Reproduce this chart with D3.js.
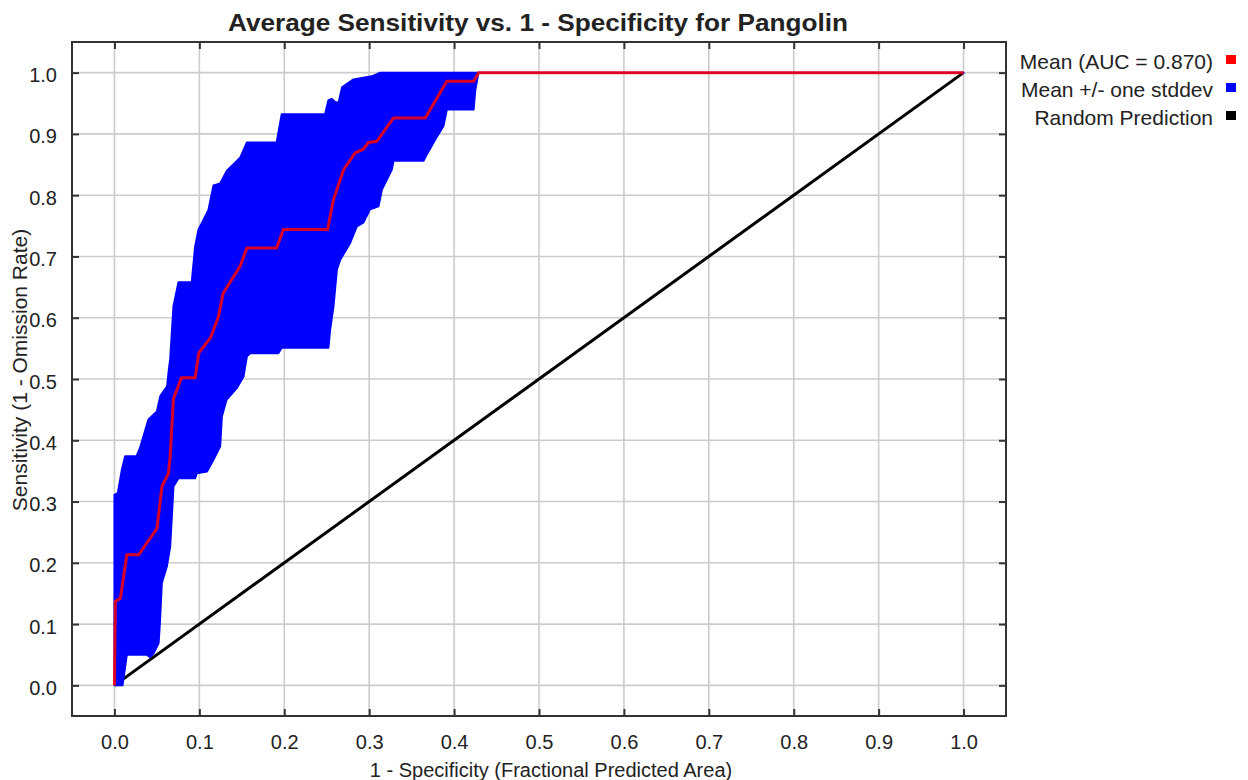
<!DOCTYPE html>
<html>
<head>
<meta charset="utf-8">
<script src="https://cdn.jsdelivr.net/npm/d3@7"></script>
<style>
  body { margin: 0; background: #fff; }
  text { font-family: "Liberation Sans", Arial, sans-serif; fill: #222; }
</style>
</head>
<body>
<script>
// data: [1 - specificity, sensitivity]
const meanCurve = [
  [0.000, 0.000], [0.001, 0.137], [0.007, 0.142], [0.0146, 0.213], [0.0285, 0.213],
  [0.050, 0.256], [0.056, 0.325], [0.0636, 0.346], [0.0656, 0.374], [0.0695, 0.468],
  [0.079, 0.502], [0.095, 0.502], [0.0995, 0.543], [0.113, 0.567], [0.1225, 0.602],
  [0.128, 0.640], [0.148, 0.684], [0.156, 0.714], [0.191, 0.714], [0.199, 0.744],
  [0.251, 0.744], [0.258, 0.793], [0.270, 0.842], [0.2835, 0.869], [0.293, 0.875],
  [0.299, 0.886], [0.309, 0.888], [0.3286, 0.926], [0.366, 0.926], [0.3915, 0.986],
  [0.423, 0.986], [0.429, 1.000], [1.000, 1.000]
];

const upperBand = [
  [0.000, 0.000], [0.000, 0.311], [0.004, 0.314], [0.0087, 0.352], [0.0126, 0.374],
  [0.026, 0.374], [0.030, 0.387], [0.040, 0.434], [0.050, 0.447], [0.054, 0.472],
  [0.062, 0.488], [0.064, 0.515], [0.0656, 0.532], [0.0695, 0.619], [0.0754, 0.658],
  [0.091, 0.658], [0.095, 0.716], [0.099, 0.744], [0.105, 0.760], [0.1107, 0.776],
  [0.1166, 0.816], [0.1245, 0.819], [0.1324, 0.840], [0.148, 0.861], [0.156, 0.886],
  [0.191, 0.886], [0.197, 0.932], [0.248, 0.932], [0.252, 0.955], [0.256, 0.957],
  [0.260, 0.952], [0.264, 0.951], [0.268, 0.976], [0.2815, 0.989], [0.303, 0.994],
  [0.313, 1.000], [1.000, 1.000]
];

const lowerBand = [
  [0.0095, 0.000], [0.0146, 0.050], [0.038, 0.050], [0.042, 0.046], [0.046, 0.052],
  [0.052, 0.069], [0.0535, 0.101], [0.0558, 0.167], [0.0617, 0.194], [0.0656, 0.226],
  [0.0695, 0.3245], [0.0754, 0.338], [0.095, 0.338], [0.097, 0.346], [0.109, 0.349],
  [0.1166, 0.368], [0.1245, 0.390], [0.1265, 0.439], [0.132, 0.466], [0.144, 0.485],
  [0.152, 0.504], [0.156, 0.537], [0.160, 0.542], [0.193, 0.542], [0.197, 0.551],
  [0.252, 0.551], [0.254, 0.580], [0.258, 0.619], [0.262, 0.679], [0.266, 0.695],
  [0.2776, 0.722], [0.2855, 0.749], [0.293, 0.755], [0.301, 0.777], [0.311, 0.782],
  [0.315, 0.809], [0.3267, 0.842], [0.3286, 0.856], [0.364, 0.856], [0.368, 0.867],
  [0.380, 0.896], [0.3875, 0.913], [0.3915, 0.940], [0.423, 0.940], [0.425, 0.972],
  [0.4287, 1.000], [1.000, 1.000]
];

const randomLine = [[0, 0], [1, 1]];

const tickValues = [0, 0.1, 0.2, 0.3, 0.4, 0.5, 0.6, 0.7, 0.8, 0.9, 1.0];

const legendItems = ["Mean (AUC = 0.870)", "Mean +/- one stddev", "Random Prediction"];
const legendColors = ["#ff0000", "#0000ff", "#000000"];

const chartTitle = "Average Sensitivity vs. 1 - Specificity for Pangolin";
const xTitle = "1 - Specificity (Fractional Predicted Area)";
const yTitle = "Sensitivity (1 - Omission Rate)";

//width and height
const W = 1248, H = 780;
const margin = { top: 42, right: 242, bottom: 64, left: 72 };

const svg = d3.select("body").append("svg")
  .attr("width", W)
  .attr("height", H);

//scales
const x = d3.scaleLinear().domain([-0.05, 1.05]).range([margin.left, W - margin.right]);
const y = d3.scaleLinear().domain([-0.05, 1.05]).range([H - margin.bottom, margin.top]);

const plotLeft = margin.left, plotRight = W - margin.right;
const plotTop = margin.top, plotBottom = H - margin.bottom;

//gridlines
svg.append("g").selectAll("line")
  .data(tickValues).enter().append("line")
  .attr("x1", d => x(d)).attr("x2", d => x(d))
  .attr("y1", plotTop).attr("y2", plotBottom)
  .attr("stroke", "#cccccc").attr("stroke-width", 1.6);

svg.append("g").selectAll("line")
  .data(tickValues).enter().append("line")
  .attr("y1", d => y(d)).attr("y2", d => y(d))
  .attr("x1", plotLeft).attr("x2", plotRight)
  .attr("stroke", "#cccccc").attr("stroke-width", 1.6);

const line = d3.line()
  .x(d => x(d[0]))
  .y(d => y(d[1]));

//random prediction diagonal
svg.append("path")
  .datum(randomLine)
  .attr("d", line)
  .attr("fill", "none")
  .attr("stroke", "#000")
  .attr("stroke-width", 3);

//stddev band: upper edge then lower edge reversed
const bandPoly = upperBand.concat(lowerBand.slice().reverse());
svg.append("path")
  .datum(bandPoly)
  .attr("d", d => line(d) + "Z")
  .attr("fill", "#0000ff")
  .attr("stroke", "#0000ff")
  .attr("stroke-width", 2)
  .attr("stroke-linejoin", "round");

//mean curve
svg.append("path")
  .datum(meanCurve)
  .attr("d", line)
  .attr("fill", "none")
  .attr("stroke", "#ff0000")
  .attr("stroke-opacity", 0.85)
  .attr("stroke-width", 3);

//frame
svg.append("rect")
  .attr("x", plotLeft).attr("y", plotTop)
  .attr("width", plotRight - plotLeft).attr("height", plotBottom - plotTop)
  .attr("fill", "none").attr("stroke", "#333").attr("stroke-width", 2);

//axes with inward ticks on all four sides
const tickLen = 7;
const xAxisB = svg.append("g")
  .attr("transform", "translate(0," + plotBottom + ")")
  .call(d3.axisBottom(x).tickValues(tickValues).tickSize(-tickLen).tickPadding(tickLen + 12).tickFormat(d3.format(".1f")));
const xAxisT = svg.append("g")
  .attr("transform", "translate(0," + plotTop + ")")
  .call(d3.axisTop(x).tickValues(tickValues).tickSize(-tickLen).tickFormat(""));
const yAxisL = svg.append("g")
  .attr("transform", "translate(" + plotLeft + ",0)")
  .call(d3.axisLeft(y).tickValues(tickValues).tickSize(-tickLen).tickPadding(tickLen + 8).tickFormat(d3.format(".1f")));
const yAxisR = svg.append("g")
  .attr("transform", "translate(" + plotRight + ",0)")
  .call(d3.axisRight(y).tickValues(tickValues).tickSize(-tickLen).tickFormat(""));

[xAxisB, xAxisT, yAxisL, yAxisR].forEach(g => {
  g.select(".domain").remove();
  g.selectAll(".tick line").attr("stroke", "#333").attr("stroke-width", 2);
  g.selectAll(".tick text")
    .style("font-family", "'Liberation Sans', Arial, sans-serif")
    .style("font-size", "20px")
    .attr("fill", "#222");
});
yAxisL.selectAll(".tick text").attr("dy", "0.45em");

//titles
svg.append("text")
  .attr("x", 538)
  .attr("y", 31)
  .attr("text-anchor", "middle")
  .attr("textLength", 620)
  .attr("lengthAdjust", "spacingAndGlyphs")
  .style("font-size", "23px")
  .style("font-weight", "bold")
  .text(chartTitle);

svg.append("text")
  .attr("x", 551)
  .attr("y", 777)
  .attr("text-anchor", "middle")
  .style("font-size", "20px")
  .text(xTitle);

svg.append("text")
  .attr("text-anchor", "middle")
  .attr("transform", "translate(27," + 370 + ")rotate(-90)")
  .style("font-size", "21px")
  .text(yTitle);

//legend
const legend = svg.append("g");
legendItems.forEach((label, i) => {
  const ly = 62 + i * 28;
  legend.append("text")
    .attr("x", 1213)
    .attr("y", ly + 7)
    .attr("text-anchor", "end")
    .style("font-size", "21px")
    .text(label);
  legend.append("rect")
    .attr("x", 1226)
    .attr("y", ly - 7)
    .attr("width", 10)
    .attr("height", 9)
    .attr("fill", legendColors[i]);
});
</script>
</body>
</html>
